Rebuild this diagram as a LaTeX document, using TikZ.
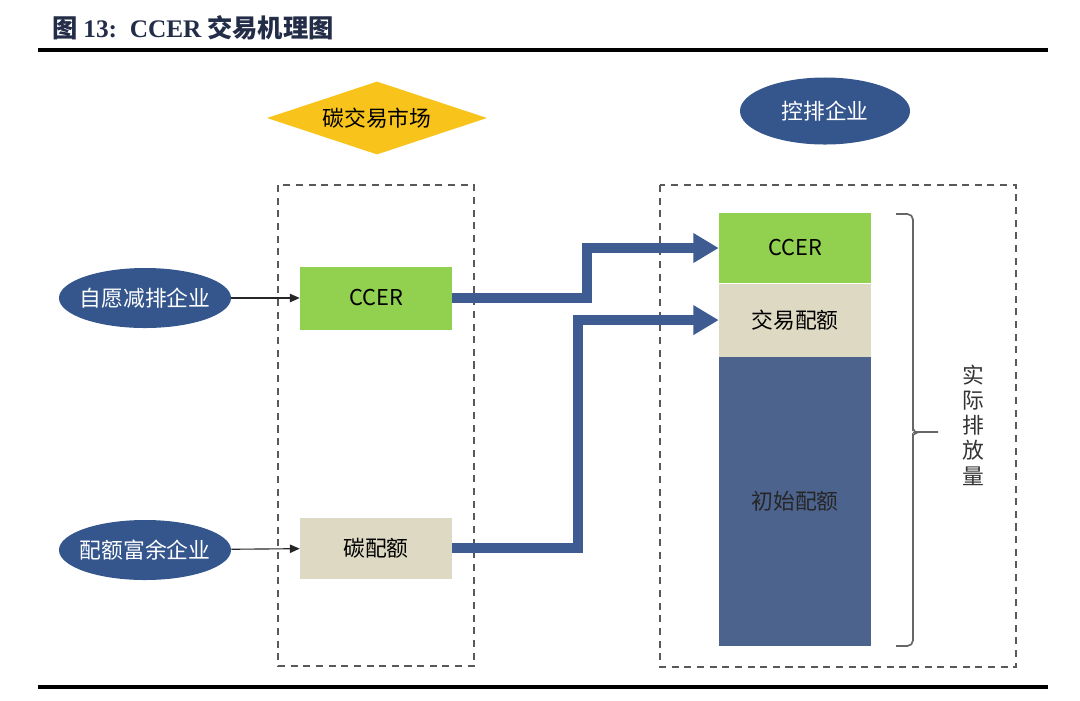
\documentclass[tikz,border=0pt]{standalone}
\usepackage{fontspec}
\setmainfont{Noto Sans CJK SC}
\newfontfamily\titleserif{Liberation Serif}
\usetikzlibrary{shapes.geometric, arrows.meta, positioning}

\definecolor{ellblue}{RGB}{52,86,140}
\definecolor{flowblue}{RGB}{62,92,146}
\definecolor{baseblue}{RGB}{76,99,141}
\definecolor{ccergreen}{RGB}{146,208,80}
\definecolor{quotabeige}{RGB}{221,217,195}
\definecolor{marketgold}{RGB}{248,196,28}
\definecolor{titlenavy}{RGB}{35,45,72}

\tikzset{
  firm/.style={ellipse, fill=ellblue, text=white, minimum width=4.3cm, minimum height=1.5cm, inner xsep=-4pt, inner ysep=0pt, font=\fontsize{15.5}{18}\selectfont},
  asset/.style={rectangle, minimum width=3.8cm, inner sep=0pt, font=\fontsize{15.5}{18}\selectfont},
  zone/.style={draw=black!65, line width=1pt, dash pattern=on 5pt off 4pt},
  feed/.style={draw=black!85, line width=0.8pt, -{Triangle[length=7pt,width=6pt]}},
  flow/.style={draw=flowblue, line width=7pt, -{Triangle[length=18pt,width=20pt]}},
}

\begin{document}
\begin{tikzpicture}[x=0.025cm, y=-0.025cm]
    \useasboundingbox (0,0) rectangle (1080,700);
    % Title and rules
    \node[anchor=base west, inner sep=0pt, text=titlenavy, font=\fontsize{18}{21}\selectfont\bfseries] (title) at (52,37)
        {图 {\titleserif 13:\ \ CCER} 交易机理图};
    \draw[line width=2.2pt] (38,50) -- (1048,50);
    \draw[line width=2.2pt] (38,687) -- (1048,687);
    % Market and controlled firm
    \node[diamond, fill=marketgold, shape aspect=3, minimum width=5.5cm, minimum height=1.825cm, inner sep=0pt, font=\fontsize{15.5}{18}\selectfont] (market) at (377,118) {碳交易市场};
    \node[firm, minimum width=4.25cm, minimum height=1.675cm] (ctrl) at (825,111) {控排企业};
    % Dashed zones
    \draw[zone] (278,185) rectangle (474,666);
    \draw[zone] (660,185) rectangle (1016,667);
    % Sellers
    \node[firm] (volunt) at (145,298) {自愿减排企业};
    \node[firm] (surplus) at (145,550) {配额富余企业};
    \node[asset, fill=ccergreen, minimum height=1.575cm] (ccer) at (376,298) {CCER};
    \node[asset, fill=quotabeige, minimum height=1.525cm] (carbon) at (376,548) {碳配额};
    \draw[feed] (volunt) -- (ccer);
    \draw[feed] (surplus) -- (carbon);
    % Emission column
    \node[asset, fill=ccergreen, minimum height=1.75cm] (colccer) at (795,248) {CCER};
    \node[asset, fill=quotabeige, minimum height=1.825cm, below=0pt of colccer] (coltrade) {交易配额};
    \node[asset, fill=baseblue, minimum height=7.225cm, text=black!85, below=0pt of coltrade] (colbase) {初始配额};
    % Purchases
    \draw[flow] (ccer.east) -- ++(135,0) |- (colccer.west);
    \draw[flow] (carbon.east) -- ++(126,0) |- (coltrade.west);
    % Brace
    \draw[black!60, line width=1.2pt, rounded corners=4pt]
        (896,214) -| (913,424) to[out=-90,in=180] (920,432) -- (938,432);
    \draw[black!60, line width=1.2pt, rounded corners=4pt]
        (920,432) to[out=180,in=90] (913,440) |- (896,646);
    \node[align=center, text=black!80, font=\fontsize{15.5}{18}\selectfont] (actual) at (973,425) {实\\际\\排\\放\\量};
\end{tikzpicture}
\end{document}
